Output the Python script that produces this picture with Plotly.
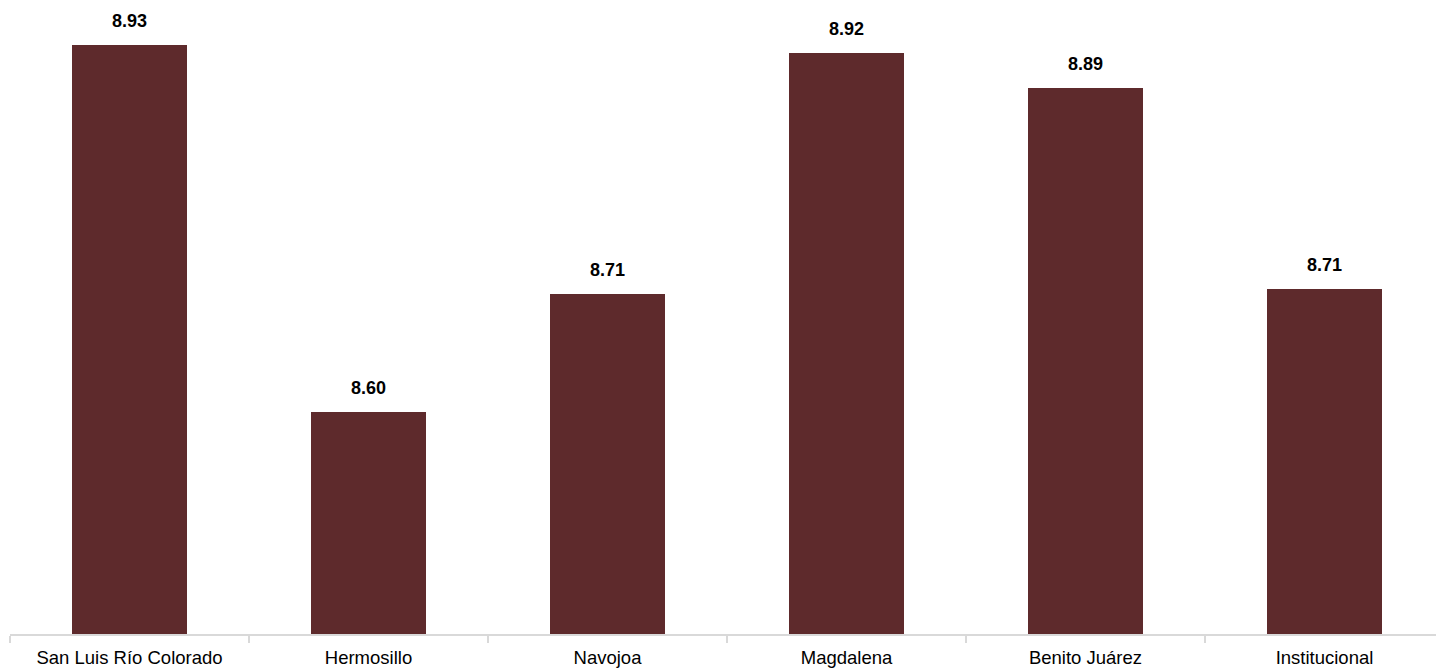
import plotly.graph_objects as go

categories = ["San Luis Río Colorado", "Hermosillo", "Navojoa", "Magdalena", "Benito Juárez", "Institucional"]
values = [8.932, 8.600, 8.707, 8.9248, 8.8928, 8.711]

bar_color = "#5E2A2C"
y_min = 8.4

fig = go.Figure()
fig.add_trace(go.Bar(
    x=list(range(len(categories))),
    y=values,
    width=0.48,
    marker=dict(color=bar_color, line=dict(width=0)),
    hoverinfo="skip",
))

for i, v in enumerate(values):
    fig.add_annotation(
        x=i, y=v, text=f"<b>{v:.2f}</b>", showarrow=False,
        yanchor="middle", yshift=24,
        font=dict(family="Liberation Sans, Arial, sans-serif", size=18, color="#000000"),
    )

W, H = 1436, 669
ml, mr, mt, mb = 10, 0, 21, 35
plot_w = W - ml - mr
cat_w = 239.0
x_end = -0.5 + plot_w / cat_w

fig.update_layout(
    width=W, height=H,
    margin=dict(l=ml, r=mr, t=mt, b=mb, pad=0, autoexpand=False),
    plot_bgcolor="white", paper_bgcolor="white",
    showlegend=False,
    bargap=0,
    xaxis=dict(
        range=[-0.5, x_end],
        automargin=False,
        tickmode="array",
        tickvals=list(range(len(categories))),
        ticktext=categories,
        showgrid=False, zeroline=False,
        showline=True, linecolor="#D9D9D9", linewidth=1.5,
        ticks="",
        ticklabelstandoff=6,
        tickfont=dict(family="Liberation Sans, Arial, sans-serif", size=18.5, color="#000000"),
        minor=dict(
            tickmode="array",
            tickvals=[b - 0.5 for b in range(len(categories) + 1)],
            ticks="outside", ticklen=7, tickwidth=1.5, tickcolor="#D9D9D9",
            showgrid=False,
        ),
        fixedrange=True,
    ),
    yaxis=dict(
        range=[y_min, y_min + (H - mt - mb) / 1108.0],
        automargin=False,
        visible=False, showgrid=False, zeroline=False,
        fixedrange=True,
    ),
)

fig.write_html(
    "out.html",
    config={"displayModeBar": False, "staticPlot": True},
    post_script="document.body.style.margin='0';document.body.style.overflow='hidden';",
)
